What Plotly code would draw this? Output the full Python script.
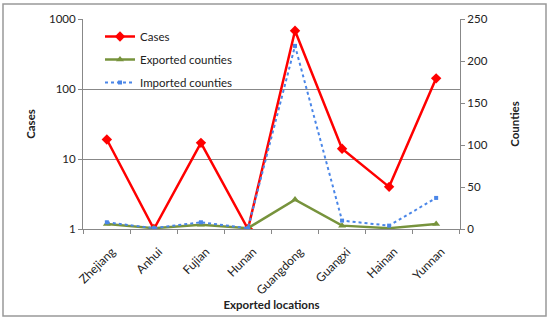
import plotly.graph_objects as go

locations = ["Zhejiang", "Anhui", "Fujian", "Hunan", "Guangdong", "Guangxi", "Hainan", "Yunnan"]
cases = [19, 1, 17, 1, 680, 14, 4, 142]
exported_counties = [6, 1, 5, 1, 35, 4, 1, 6]
imported_counties = [8, 1, 8, 1, 218, 10, 4, 37]

FONT = "Lato"
fig = go.Figure()
fig.add_trace(go.Scatter(x=locations, y=cases, name="Cases", mode="lines+markers", legendgroup="a",
                         line=dict(color="#FF0000", width=2.5),
                         marker=dict(symbol="diamond", size=8, color="#FF0000")))
fig.add_trace(go.Scatter(x=locations, y=exported_counties, name="Exported counties", mode="lines+markers",
                         legendgroup="b", yaxis="y2", line=dict(color="#77933C", width=2.5),
                         marker=dict(symbol="triangle-up", size=7, color="#77933C")))
fig.add_trace(go.Scatter(x=locations, y=imported_counties, name="Imported counties", mode="lines+markers",
                         legendgroup="c", yaxis="y2", line=dict(color="#4A86E8", width=2, dash="dot"),
                         marker=dict(symbol="square", size=4, color="#4A86E8")))

L, R, T, B = 83, 90, 19, 93
pw, ph = 550 - L - R, 322 - T - B

fig.update_layout(
    width=550, height=322,
    margin=dict(l=L, r=R, t=T, b=B),
    paper_bgcolor="white", plot_bgcolor="white",
    font=dict(family=FONT, size=11, color="#222"),
    showlegend=True,
    legend=dict(x=(100 - L) / pw, y=(229 - 22) / ph, xanchor="left", yanchor="top",
                bgcolor="rgba(0,0,0,0)", font=dict(size=11.5, family=FONT), tracegroupgap=4),
    xaxis=dict(type="category", showgrid=False, showline=True, linecolor="#888", linewidth=1,
               ticks="outside", tickcolor="#888", ticklen=4, tickson="boundaries",
               tickangle=-45, tickfont=dict(size=12), ticklabelstandoff=10, ticklabelshift=5,
               title=dict(text="<b>Exported locations</b>", font=dict(size=11.5), standoff=1)),
    yaxis=dict(type="log", range=[0, 3], showgrid=True, gridcolor="#888", gridwidth=1,
               tickvals=[1, 10, 100, 1000], ticktext=["1", "10", "100", "1000"],
               showline=True, linecolor="#888", ticks="outside", tickcolor="#888", ticklen=4,
               zeroline=False, tickfont=dict(size=11.5),
               title=dict(text="<b>Cases</b>", font=dict(size=11.5), standoff=10)),
    yaxis2=dict(overlaying="y", side="right", range=[0, 250], dtick=50, showgrid=False,
                showline=True, linecolor="#888", ticks="outside", tickcolor="#888", ticklen=4,
                zeroline=False, tickfont=dict(size=11.5),
                title=dict(text="<b>Counties</b>", font=dict(size=11.5), standoff=24)),
    shapes=[dict(type="rect", xref="paper", yref="paper",
                 x0=(3 - L) / pw, x1=(546 - L) / pw,
                 y0=(229 - 316) / ph, y1=(229 - 4) / ph,
                 line=dict(color="#999", width=1.5), fillcolor="rgba(0,0,0,0)", layer="above")],
)

fig.write_html("out.html", config={"displayModeBar": False},
               post_script="document.body.style.margin='0';")
